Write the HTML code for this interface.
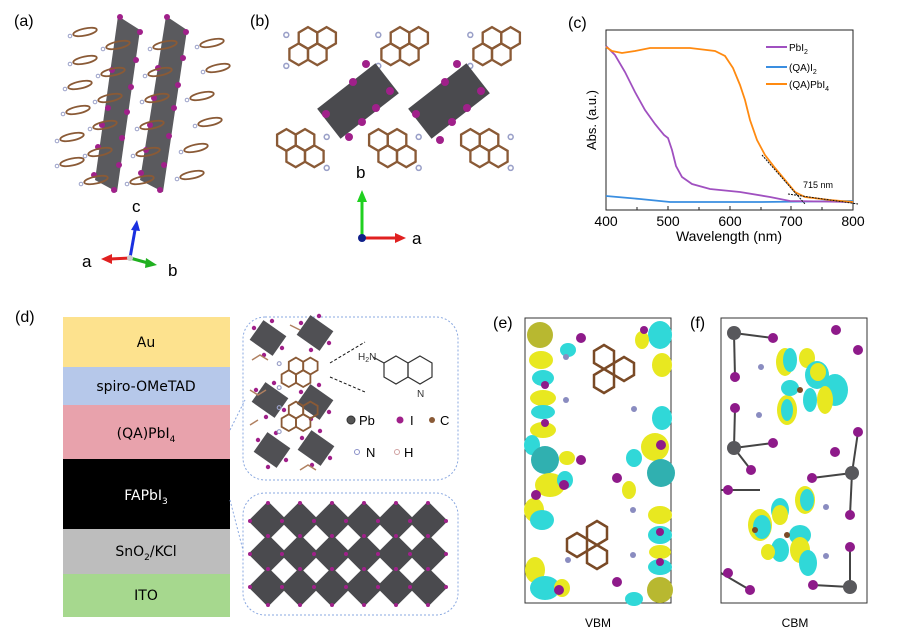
<!DOCTYPE html>
<html><head><meta charset="utf-8"><style>
html,body{margin:0;padding:0;background:#fff;}
svg{display:block;font-family:"Liberation Sans",Arial,sans-serif;}
</style></head><body>
<svg width="901" height="637" viewBox="0 0 901 637" xmlns="http://www.w3.org/2000/svg">
<defs>
 <g id="hex"><polygon points="0,-7 6,-3.5 6,3.5 0,7 -6,3.5 -6,-3.5" fill="none" stroke="#8a5a36" stroke-width="1.5"/></g>
 <g id="mol">
  <use href="#hex" x="0" y="0"/><use href="#hex" x="12" y="0"/><use href="#hex" x="6" y="10.5"/><use href="#hex" x="-6" y="10.5"/>
  <circle cx="-14" cy="-2" r="1.6" fill="none" stroke="#9aa0c8"/><circle cx="-14" cy="18" r="1.6" fill="none" stroke="#9aa0c8"/>
 </g>
 <g id="flat"><ellipse cx="0" cy="0" rx="12" ry="3.5" fill="none" stroke="#8a5a36" stroke-width="1.8" transform="rotate(-12)"/><circle cx="-15" cy="4" r="1.8" fill="none" stroke="#9aa0c8"/></g>
 <g id="dia"><rect x="-14" y="-14" width="28" height="28" fill="#4a4a4e" transform="rotate(45)"/><circle cx="0" cy="-18" r="2" fill="#a0208a"/><circle cx="18" cy="0" r="2" fill="#a0208a"/><circle cx="-18" cy="0" r="2" fill="#a0208a"/><circle cx="0" cy="18" r="2" fill="#a0208a"/></g>
 <g id="oct"><rect x="-14" y="-12" width="28" height="24" fill="#505054" transform="rotate(35)"/><circle cx="-14" cy="-10" r="2.2" fill="#a0208a"/><circle cx="14" cy="10" r="2.2" fill="#a0208a"/><circle cx="4" cy="-17" r="2.2" fill="#a0208a"/><circle cx="-4" cy="17" r="2.2" fill="#a0208a"/></g>
</defs>

<!-- (a) -->
<text x="14" y="26" font-size="16">(a)</text>
<polygon points="118,16 140,30 117,192 95,180" fill="#5a5a5e"/>
<polygon points="166,16 187,30 163,192 140,180" fill="#5a5a5e"/>
<g fill="#a0208a">
<circle cx="120" cy="17" r="3"/><circle cx="140" cy="32" r="3"/><circle cx="136" cy="60" r="3"/><circle cx="112" cy="70" r="3"/><circle cx="131" cy="87" r="3"/><circle cx="108" cy="108" r="3"/><circle cx="127" cy="112" r="3"/><circle cx="102" cy="125" r="3"/><circle cx="122" cy="138" r="3"/><circle cx="98" cy="147" r="3"/><circle cx="119" cy="165" r="3"/><circle cx="94" cy="175" r="3"/><circle cx="114" cy="190" r="3"/>
<circle cx="167" cy="17" r="3"/><circle cx="186" cy="32" r="3"/><circle cx="183" cy="58" r="3"/><circle cx="158" cy="68" r="3"/><circle cx="178" cy="85" r="3"/><circle cx="154" cy="98" r="3"/><circle cx="174" cy="108" r="3"/><circle cx="150" cy="125" r="3"/><circle cx="169" cy="136" r="3"/><circle cx="146" cy="150" r="3"/><circle cx="164" cy="165" r="3"/><circle cx="141" cy="173" r="3"/><circle cx="160" cy="190" r="3"/>
</g>
<use href="#flat" x="85" y="32"/><use href="#flat" x="85" y="60"/><use href="#flat" x="80" y="85"/><use href="#flat" x="78" y="110"/><use href="#flat" x="72" y="137"/><use href="#flat" x="72" y="162"/>
<use href="#flat" x="212" y="43"/><use href="#flat" x="218" y="68"/><use href="#flat" x="202" y="96"/><use href="#flat" x="210" y="122"/><use href="#flat" x="196" y="148"/><use href="#flat" x="192" y="175"/>
<use href="#flat" x="118" y="45"/><use href="#flat" x="113" y="72"/><use href="#flat" x="110" y="98"/><use href="#flat" x="105" y="125"/><use href="#flat" x="100" y="152"/><use href="#flat" x="96" y="180"/>
<use href="#flat" x="165" y="45"/><use href="#flat" x="160" y="72"/><use href="#flat" x="157" y="98"/><use href="#flat" x="152" y="125"/><use href="#flat" x="148" y="152"/><use href="#flat" x="142" y="180"/>
<text x="132" y="212" font-size="17">c</text>
<line x1="130" y1="258" x2="135" y2="230" stroke="#1a30e0" stroke-width="3"/><polygon points="131,230 140,231 137,220" fill="#1a30e0"/>
<line x1="130" y1="258" x2="110" y2="259" stroke="#e02020" stroke-width="3"/><polygon points="112,254 112,264 101,259" fill="#e02020"/>
<line x1="130" y1="258" x2="148" y2="263" stroke="#20b020" stroke-width="3"/><polygon points="146,258 145,268 157,265" fill="#20b020"/>
<circle cx="130" cy="258" r="3" fill="#ccc"/>
<text x="82" y="267" font-size="17">a</text><text x="168" y="276" font-size="17">b</text>

<!-- (b) -->
<text x="250" y="26" font-size="16">(b)</text>
<g transform="translate(308,38) scale(1.55)"><use href="#mol"/></g>
<g transform="translate(400,38) scale(1.55)"><use href="#mol"/></g>
<g transform="translate(492,38) scale(1.55)"><use href="#mol"/></g>
<g transform="translate(305,140) scale(-1.55,1.55)"><use href="#mol"/></g>
<g transform="translate(397,140) scale(-1.55,1.55)"><use href="#mol"/></g>
<g transform="translate(489,140) scale(-1.55,1.55)"><use href="#mol"/></g>
<g transform="translate(358,101) rotate(-38)"><rect x="-37" y="-19" width="74" height="38" fill="#4a4a4e"/></g>
<g transform="translate(449,101) rotate(-38)"><rect x="-37" y="-19" width="74" height="38" fill="#4a4a4e"/></g>
<g fill="#a0208a"><circle cx="366" cy="64" r="4"/><circle cx="390" cy="91" r="4"/><circle cx="353" cy="82" r="4"/><circle cx="376" cy="108" r="4"/><circle cx="326" cy="114" r="4"/><circle cx="349" cy="137" r="4"/><circle cx="362" cy="122" r="4"/>
<circle cx="457" cy="64" r="4"/><circle cx="481" cy="91" r="4"/><circle cx="445" cy="82" r="4"/><circle cx="467" cy="108" r="4"/><circle cx="416" cy="114" r="4"/><circle cx="440" cy="140" r="4"/><circle cx="452" cy="122" r="4"/></g>
<text x="356" y="178" font-size="17">b</text>
<line x1="362" y1="238" x2="362" y2="200" stroke="#20d020" stroke-width="3"/><polygon points="357,202 367,202 362,190" fill="#20d020"/>
<line x1="362" y1="238" x2="396" y2="238" stroke="#e02020" stroke-width="3"/><polygon points="395,233 395,243 406,238" fill="#e02020"/>
<circle cx="362" cy="238" r="4" fill="#10208a"/>
<text x="412" y="244" font-size="17">a</text>

<!-- (c) -->
<text x="568" y="28" font-size="16">(c)</text>
<rect x="606" y="30" width="247" height="180" fill="none" stroke="#222" stroke-width="1"/>
<g stroke="#222"><line x1="637" y1="210" x2="637" y2="207"/><line x1="668" y1="210" x2="668" y2="206"/><line x1="699" y1="210" x2="699" y2="207"/><line x1="730" y1="210" x2="730" y2="206"/><line x1="761" y1="210" x2="761" y2="207"/><line x1="791" y1="210" x2="791" y2="206"/><line x1="822" y1="210" x2="822" y2="207"/></g>
<g font-size="14" text-anchor="middle"><text x="606" y="226">400</text><text x="668" y="226">500</text><text x="730" y="226">600</text><text x="791" y="226">700</text><text x="853" y="226">800</text></g>
<text x="729" y="241" font-size="14" text-anchor="middle">Wavelength (nm)</text>
<text transform="translate(596,120) rotate(-90)" font-size="13" text-anchor="middle">Abs. (a.u.)</text>
<polyline fill="none" stroke="#3a8ee0" stroke-width="1.8" points="606,196 640,199 670,202 760,202 853,201"/>
<polyline fill="none" stroke="#a050c0" stroke-width="1.8" points="606,46 615,55 625,72 635,92 645,110 655,124 664,135 668,138 672,150 676,166 682,177 692,184 710,189 740,192 770,197 790,201 853,202"/>
<polyline fill="none" stroke="#ff8a10" stroke-width="1.8" points="606,47 612,51 622,53 635,51 650,48 690,48 715,51 725,56 733,68 740,85 745,100 750,120 757,140 765,155 775,168 785,180 795,192 805,197 830,200 853,202"/>
<line x1="762" y1="155" x2="805" y2="204" stroke="#111" stroke-dasharray="2,1" stroke-width="1"/>
<line x1="788" y1="194" x2="858" y2="204" stroke="#111" stroke-dasharray="2,1" stroke-width="1"/>
<text x="803" y="188" font-size="9">715 nm</text>
<line x1="766" y1="47" x2="787" y2="47" stroke="#a050c0" stroke-width="2"/><text x="789" y="51" font-size="10">PbI<tspan font-size="7" dy="3">2</tspan></text>
<line x1="766" y1="67" x2="787" y2="67" stroke="#3a8ee0" stroke-width="2"/><text x="789" y="71" font-size="10">(QA)I<tspan font-size="7" dy="3">2</tspan></text>
<line x1="766" y1="84" x2="787" y2="84" stroke="#ff8a10" stroke-width="2"/><text x="789" y="88" font-size="10">(QA)PbI<tspan font-size="7" dy="3">4</tspan></text>

<!-- (d) -->
<text x="15" y="322" font-size="16">(d)</text>
<rect x="63" y="317" width="167" height="50" fill="#fde28e"/>
<rect x="63" y="367" width="167" height="38" fill="#b6c8ea"/>
<rect x="63" y="405" width="167" height="54" fill="#e8a2ac"/>
<rect x="63" y="459" width="167" height="70" fill="#000"/>
<rect x="63" y="529" width="167" height="45" fill="#bdbdbd"/>
<rect x="63" y="574" width="167" height="43" fill="#a6d88e"/>
<g font-size="14" text-anchor="middle" font-family="'DejaVu Sans',sans-serif">
<text x="146" y="347">Au</text><text x="146" y="391">spiro-OMeTAD</text>
<text x="146" y="438">(QA)PbI<tspan font-size="9" dy="4">4</tspan></text>
<text x="146" y="500" fill="#fff">FAPbI<tspan font-size="9" dy="4">3</tspan></text>
<text x="146" y="556">SnO<tspan font-size="9" dy="4">2</tspan><tspan dy="-4">/KCl</tspan></text>
<text x="146" y="600">ITO</text></g>
<g stroke="#8aa8e0" stroke-dasharray="2,2" fill="none"><line x1="230" y1="430" x2="245" y2="400"/><line x1="230" y1="500" x2="243" y2="550"/>
<rect x="243" y="317" width="215" height="163" rx="22"/><rect x="243" y="493" width="215" height="122" rx="22"/></g>
<use href="#oct" x="268" y="338"/><use href="#oct" x="315" y="333"/><use href="#oct" x="270" y="400"/><use href="#oct" x="315" y="402"/><use href="#oct" x="272" y="450"/><use href="#oct" x="316" y="448"/>
<g transform="translate(296,366) scale(1.2)"><use href="#mol"/></g>
<g transform="translate(296,410) scale(1.2)"><use href="#mol"/></g>
<g stroke="#b08060" stroke-width="1.5" fill="none"><path d="M252 360 l8 -5 8 5 M250 390 l8 5 8 -5 M250 425 l8 -5 M290 325 l10 5 M300 470 l8 -5 8 5"/></g>
<g stroke="#111" stroke-dasharray="3,2"><line x1="330" y1="363" x2="365" y2="342"/><line x1="330" y1="377" x2="365" y2="392"/></g>
<g stroke="#333" stroke-width="1.2" fill="none"><polygon points="396,356 408,363 408,377 396,384 384,377 384,363"/><polygon points="420,356 432,363 432,377 420,384 408,377 408,363"/><line x1="384" y1="363" x2="373" y2="357"/></g>
<text x="358" y="360" font-size="10" fill="#333">H<tspan font-size="7" dy="2">2</tspan><tspan dy="-2">N</tspan></text>
<text x="417" y="397" font-size="10" fill="#333">N</text>
<circle cx="351" cy="420" r="4" fill="#555" stroke="#333"/><text x="359" y="425" font-size="13">Pb</text>
<circle cx="400" cy="420" r="3.5" fill="#a0208a"/><text x="410" y="425" font-size="13">I</text>
<circle cx="432" cy="420" r="3" fill="#8a5a36"/><text x="440" y="425" font-size="13">C</text>
<circle cx="357" cy="452" r="2.5" fill="none" stroke="#8a90c8"/><text x="366" y="457" font-size="13">N</text>
<circle cx="397" cy="452" r="2.5" fill="none" stroke="#d0a0a0"/><text x="404" y="457" font-size="13">H</text>
<g>
<use href="#dia" x="268" y="521"/><use href="#dia" x="300" y="521"/><use href="#dia" x="332" y="521"/><use href="#dia" x="364" y="521"/><use href="#dia" x="396" y="521"/><use href="#dia" x="428" y="521"/>
<use href="#dia" x="268" y="554"/><use href="#dia" x="300" y="554"/><use href="#dia" x="332" y="554"/><use href="#dia" x="364" y="554"/><use href="#dia" x="396" y="554"/><use href="#dia" x="428" y="554"/>
<use href="#dia" x="268" y="587"/><use href="#dia" x="300" y="587"/><use href="#dia" x="332" y="587"/><use href="#dia" x="364" y="587"/><use href="#dia" x="396" y="587"/><use href="#dia" x="428" y="587"/>
</g>

<!-- (e) -->
<text x="493" y="328" font-size="16">(e)</text>
<rect x="525" y="318" width="146" height="285" fill="#fff" stroke="#333"/>
<g>
<circle cx="540" cy="335" r="13" fill="#b8b830"/><ellipse cx="541" cy="360" rx="12" ry="9" fill="#e8e820"/><ellipse cx="543" cy="378" rx="11" ry="8" fill="#30d8d8"/><ellipse cx="543" cy="398" rx="13" ry="8" fill="#e8e820"/><ellipse cx="543" cy="412" rx="12" ry="7" fill="#30d8d8"/><ellipse cx="543" cy="430" rx="13" ry="8" fill="#e8e820"/><ellipse cx="532" cy="445" rx="8" ry="10" fill="#30d8d8"/><circle cx="545" cy="460" r="14" fill="#30b0b0"/><ellipse cx="550" cy="485" rx="15" ry="12" fill="#e8e820"/><ellipse cx="534" cy="510" rx="10" ry="12" fill="#e8e820"/><ellipse cx="542" cy="520" rx="12" ry="10" fill="#30d8d8"/><ellipse cx="535" cy="570" rx="10" ry="13" fill="#e8e820"/><ellipse cx="545" cy="588" rx="15" ry="12" fill="#30d8d8"/><ellipse cx="562" cy="588" rx="8" ry="9" fill="#e8e820"/>
<ellipse cx="568" cy="350" rx="8" ry="7" fill="#30d8d8"/><ellipse cx="567" cy="458" rx="8" ry="7" fill="#e8e820"/><ellipse cx="565" cy="480" rx="8" ry="9" fill="#30d8d8"/>
<ellipse cx="660" cy="335" rx="12" ry="14" fill="#30d8d8"/><ellipse cx="642" cy="340" rx="7" ry="9" fill="#e8e820"/><ellipse cx="662" cy="365" rx="10" ry="12" fill="#e8e820"/><ellipse cx="662" cy="418" rx="10" ry="12" fill="#30d8d8"/><ellipse cx="655" cy="447" rx="14" ry="14" fill="#e8e820"/><ellipse cx="634" cy="458" rx="8" ry="9" fill="#30d8d8"/><circle cx="661" cy="473" r="14" fill="#30b0b0"/><ellipse cx="629" cy="490" rx="7" ry="9" fill="#e8e820"/><ellipse cx="660" cy="515" rx="12" ry="9" fill="#e8e820"/><ellipse cx="660" cy="535" rx="12" ry="9" fill="#30d8d8"/><ellipse cx="660" cy="552" rx="11" ry="7" fill="#e8e820"/><ellipse cx="660" cy="567" rx="12" ry="8" fill="#30d8d8"/><circle cx="660" cy="590" r="13" fill="#b8b830"/><ellipse cx="634" cy="599" rx="9" ry="7" fill="#30d8d8"/>
</g>
<g fill="#8e1a8a"><circle cx="545" cy="385" r="4"/><circle cx="545" cy="423" r="4"/><circle cx="581" cy="338" r="5"/><circle cx="581" cy="460" r="5"/><circle cx="564" cy="485" r="5"/><circle cx="536" cy="495" r="5"/><circle cx="559" cy="590" r="5"/><circle cx="661" cy="445" r="5"/><circle cx="617" cy="478" r="5"/><circle cx="660" cy="532" r="4"/><circle cx="660" cy="562" r="4"/><circle cx="617" cy="582" r="5"/><circle cx="644" cy="330" r="4"/></g>
<g stroke="#7a4a26" stroke-width="2.5" fill="none"><polygon points="594,351 604,345 614,351 614,363 604,369 594,363"/><polygon points="614,363 624,357 634,363 634,375 624,381 614,375"/><polygon points="594,375 604,369 614,375 614,387 604,393 594,387"/>
<polygon points="587,527 597,521 607,527 607,539 597,545 587,539"/><polygon points="567,539 577,533 587,539 587,551 577,557 567,551"/><polygon points="587,551 597,545 607,551 607,563 597,569 587,563"/></g>
<g fill="#8a8cc0"><circle cx="566" cy="357" r="3"/><circle cx="566" cy="400" r="3"/><circle cx="634" cy="409" r="3"/><circle cx="633" cy="510" r="3"/><circle cx="633" cy="555" r="3"/><circle cx="568" cy="560" r="3"/></g>

<!-- (f) -->
<text x="690" y="328" font-size="16">(f)</text>
<rect x="721" y="318" width="146" height="285" fill="#fff" stroke="#333"/>
<g stroke="#444" stroke-width="2"><line x1="734" y1="333" x2="773" y2="338"/><line x1="734" y1="333" x2="735" y2="377"/><line x1="734" y1="448" x2="773" y2="443"/><line x1="734" y1="448" x2="751" y2="470"/><line x1="734" y1="448" x2="735" y2="408"/><line x1="852" y1="473" x2="812" y2="478"/><line x1="852" y1="473" x2="850" y2="515"/><line x1="852" y1="473" x2="858" y2="432"/><line x1="850" y1="587" x2="850" y2="547"/><line x1="850" y1="587" x2="813" y2="585"/><line x1="721" y1="490" x2="760" y2="490"/><line x1="721" y1="573" x2="750" y2="590"/></g>
<g fill="#8e1a8a"><circle cx="773" cy="338" r="5"/><circle cx="735" cy="377" r="5"/><circle cx="735" cy="408" r="5"/><circle cx="773" cy="443" r="5"/><circle cx="751" cy="470" r="5"/><circle cx="728" cy="490" r="5"/><circle cx="836" cy="330" r="5"/><circle cx="858" cy="350" r="5"/><circle cx="858" cy="432" r="5"/><circle cx="835" cy="452" r="5"/><circle cx="812" cy="478" r="5"/><circle cx="850" cy="515" r="5"/><circle cx="850" cy="547" r="5"/><circle cx="728" cy="573" r="5"/><circle cx="750" cy="590" r="5"/><circle cx="813" cy="585" r="5"/></g>
<g fill="#58585c"><circle cx="734" cy="333" r="7"/><circle cx="734" cy="448" r="7"/><circle cx="852" cy="473" r="7"/><circle cx="850" cy="587" r="7"/></g>
<g>
<ellipse cx="785" cy="362" rx="9" ry="14" fill="#e8e820"/><ellipse cx="790" cy="360" rx="7" ry="12" fill="#30d8d8"/><ellipse cx="807" cy="358" rx="8" ry="10" fill="#e8e820"/><ellipse cx="817" cy="375" rx="12" ry="14" fill="#30d8d8"/><ellipse cx="818" cy="372" rx="8" ry="9" fill="#e8e820"/><ellipse cx="835" cy="390" rx="13" ry="16" fill="#30d8d8"/><ellipse cx="825" cy="400" rx="8" ry="14" fill="#e8e820"/><ellipse cx="810" cy="400" rx="7" ry="12" fill="#30d8d8"/><ellipse cx="787" cy="410" rx="10" ry="15" fill="#e8e820"/><ellipse cx="787" cy="410" rx="6" ry="11" fill="#30d8d8"/><ellipse cx="790" cy="388" rx="9" ry="8" fill="#30d8d8"/>
<ellipse cx="760" cy="525" rx="12" ry="16" fill="#e8e820"/><ellipse cx="762" cy="527" rx="9" ry="12" fill="#30d8d8"/><ellipse cx="780" cy="510" rx="9" ry="12" fill="#30d8d8"/><ellipse cx="780" cy="515" rx="8" ry="10" fill="#e8e820"/><ellipse cx="805" cy="500" rx="10" ry="14" fill="#e8e820"/><ellipse cx="807" cy="500" rx="7" ry="11" fill="#30d8d8"/><ellipse cx="800" cy="535" rx="11" ry="10" fill="#30d8d8"/><ellipse cx="800" cy="550" rx="10" ry="13" fill="#e8e820"/><ellipse cx="780" cy="550" rx="9" ry="12" fill="#30d8d8"/><ellipse cx="808" cy="563" rx="9" ry="13" fill="#30d8d8"/><ellipse cx="768" cy="552" rx="7" ry="8" fill="#e8e820"/>
</g>
<g fill="#7a4a26"><circle cx="800" cy="390" r="3"/><circle cx="787" cy="535" r="3"/><circle cx="755" cy="530" r="3"/></g>
<g fill="#8a8cc0"><circle cx="761" cy="367" r="3"/><circle cx="759" cy="415" r="3"/><circle cx="826" cy="507" r="3"/><circle cx="826" cy="556" r="3"/></g>
<text x="598" y="627" font-size="12" text-anchor="middle">VBM</text>
<text x="795" y="627" font-size="12" text-anchor="middle">CBM</text>
</svg>
</body></html>
